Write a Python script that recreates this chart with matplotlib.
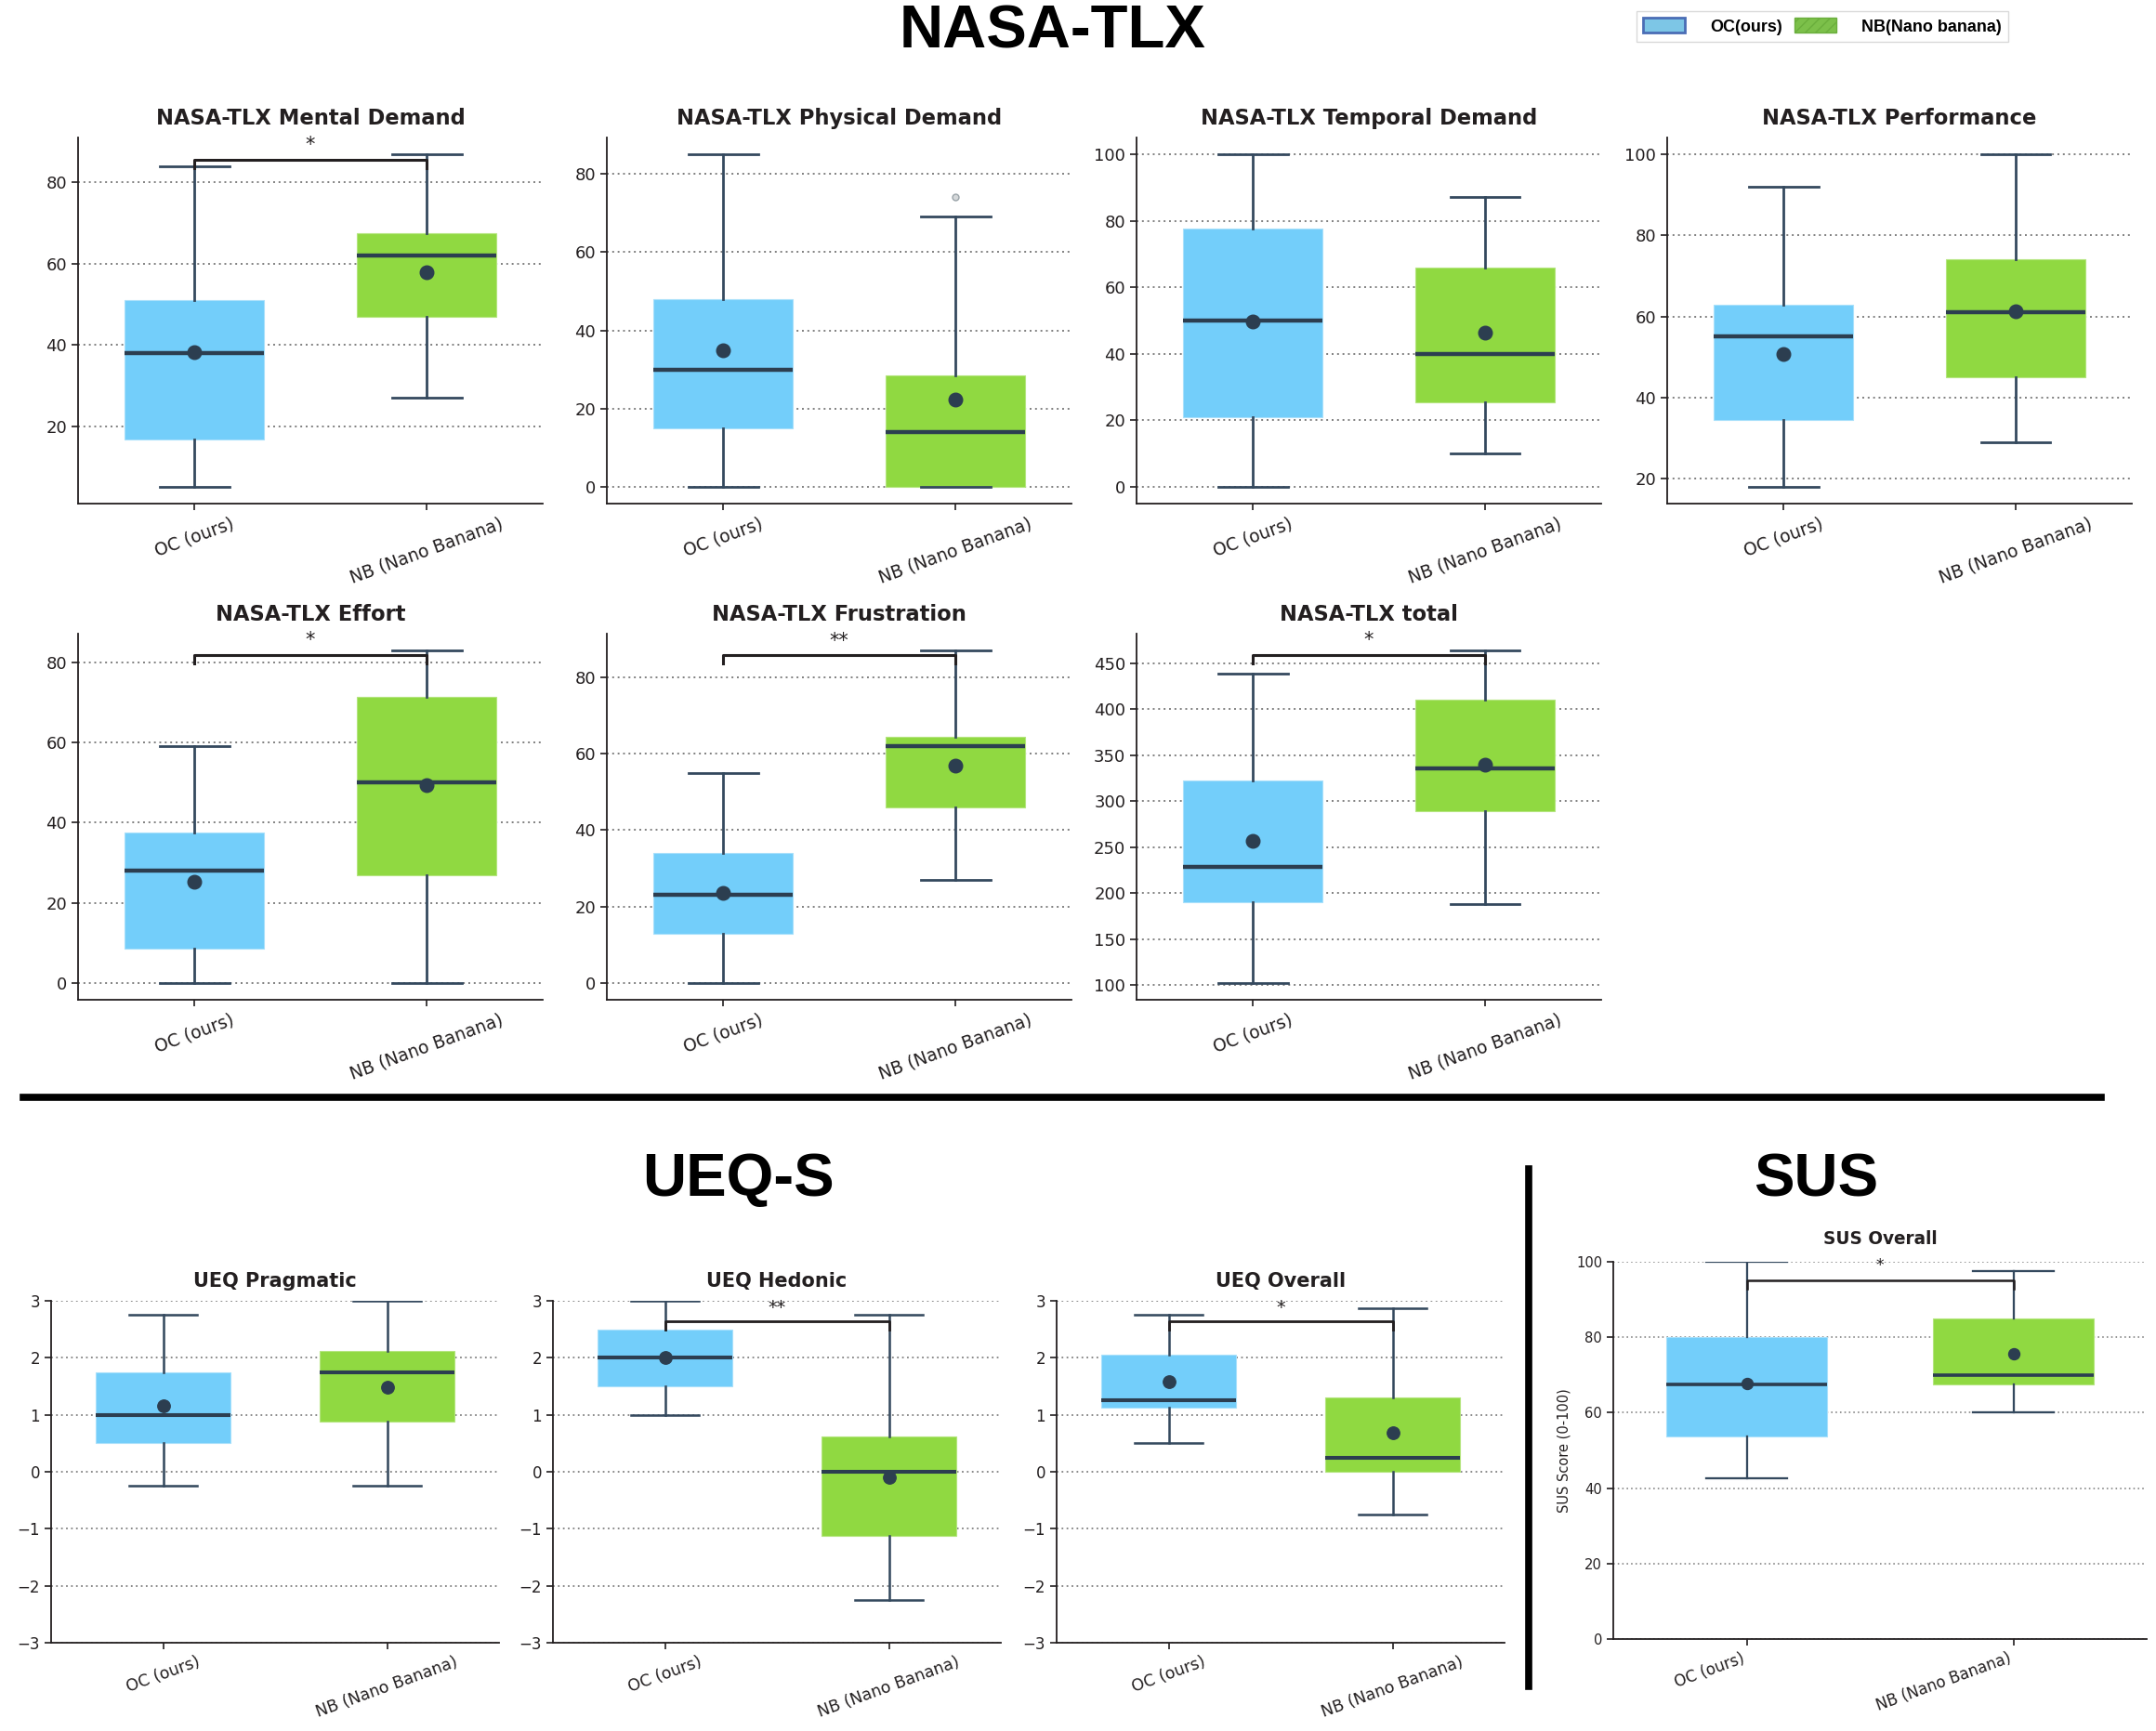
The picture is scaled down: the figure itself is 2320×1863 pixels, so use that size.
import matplotlib.pyplot as plt
from matplotlib.lines import Line2D
from matplotlib.patches import Patch
from matplotlib.ticker import MultipleLocator

groups = ['OC (ours)', 'NB (Nano Banana)']

# box summaries: [whisker low, q1, median, q3, whisker high]
mental_oc = [5, 16.6, 38, 51, 84]
mental_nb = [27, 47, 62, 67.5, 87]
mental_mean = [38.3, 57.9]

physical_oc = [0, 15, 30, 48, 85]
physical_nb = [0, 0, 14, 28.5, 69]
physical_mean = [35, 22.3]
physical_out_nb = [74]

temporal_oc = [0, 21, 50, 77.5, 100]
temporal_nb = [10, 25.5, 40, 66, 87]
temporal_mean = [49.7, 46.5]

perf_oc = [18, 34.5, 55, 63, 92]
perf_nb = [29, 45, 61, 74, 100]
perf_mean = [50.8, 61.3]

effort_oc = [0, 8.5, 28, 37.5, 59]
effort_nb = [0, 27, 50, 71.5, 83]
effort_mean = [25.2, 49.3]

frust_oc = [0, 13, 23, 34, 55]
frust_nb = [27, 46, 62, 64.5, 87]
frust_mean = [23.5, 56.8]

total_oc = [102, 190, 228, 322, 439]
total_nb = [188, 289, 336, 410, 464]
total_mean = [257, 340]

prag_oc = [-0.25, 0.5, 1.0, 1.75, 2.75]
prag_nb = [-0.25, 0.875, 1.75, 2.125, 3.0]
prag_mean = [1.16, 1.48]

hed_oc = [1.0, 1.5, 2.0, 2.5, 3.0]
hed_nb = [-2.25, -1.125, 0.0, 0.625, 2.75]
hed_mean = [2.0, -0.1]

ueq_oc = [0.5, 1.125, 1.25, 2.06, 2.75]
ueq_nb = [-0.75, 0.0, 0.25, 1.31, 2.875]
ueq_mean = [1.58, 0.69]

sus_oc = [42.5, 53.75, 67.5, 80, 100]
sus_nb = [60, 67.5, 70, 85, 97.5]
sus_mean = [67.8, 75.7]

# significance marks and bracket heights (data units)
mental_sig = ('*', 85.6)
effort_sig = ('*', 81.8)
frust_sig = ('**', 85.7)
total_sig = ('*', 458.7)
hed_sig = ('**', 2.64)
ueq_sig = ('*', 2.64)
sus_sig = ('*', 95.1)

BLUE = '#73CEFA'
GREEN = '#90D941'
DARK = '#2C3E50'
WHISK = '#34495E'

W, H = 2320, 1863
fig = plt.figure(figsize=(W / 100, H / 100), dpi=100)


def axes_px(left, top, width, height):
    return fig.add_axes([left / W, 1 - (top + height) / H, width / W, height / H])


def draw_box(ax, oc, nb, means, title, fliers=([], []), sig=None, ylim=None,
             step=20, s=1.0, ylabel=None, xfs=13.5, tpad=10, xha='center'):
    stats = []
    for vals, lab, m, fl in zip([oc, nb], groups, means, fliers):
        stats.append(dict(whislo=vals[0], q1=vals[1], med=vals[2], q3=vals[3],
                          whishi=vals[4], mean=m, fliers=fl, label=lab))
    bp = ax.bxp(stats, positions=[0, 1], widths=0.6, patch_artist=True,
                showmeans=True, showfliers=True,
                boxprops=dict(linewidth=0.8),
                whiskerprops=dict(color=WHISK, linewidth=2.0 * s),
                capprops=dict(color=WHISK, linewidth=2.0 * s),
                medianprops=dict(color=DARK, linewidth=3.2 * s),
                meanprops=dict(marker='o', markerfacecolor=DARK, markeredgecolor=DARK,
                               markersize=10.5 * s),
                flierprops=dict(marker='o', markerfacecolor='#D5D8DA',
                                markeredgecolor='#9AA3A8', markersize=5))
    for box, c, e in zip(bp['boxes'], [BLUE, GREEN], ['#A8E0FB', '#B4E57E']):
        box.set_facecolor(c)
        box.set_edgecolor(e)
    if ylim is None:
        lo = min(oc[0], nb[0], *fliers[0], *fliers[1])
        hi = max(oc[4], nb[4], *fliers[0], *fliers[1])
        pad = 0.05 * (hi - lo)
        ylim = (lo - pad, hi + pad)
    ax.set_ylim(ylim)
    ax.set_xlim(-0.5, 1.5)
    span = ylim[1] - ylim[0]
    if sig is not None:
        mark, y = sig
        ax.plot([0, 0, 1, 1], [y - 0.023 * span, y, y, y - 0.023 * span],
                color='#231F20', linewidth=2.2 * s, zorder=4)
        ax.text(0.5, y + 0.04 * span, mark, ha='center', va='center',
                fontsize=15 * s, color='#231F20')
    ax.yaxis.set_major_locator(MultipleLocator(step))
    ax.yaxis.grid(True, linestyle=(0, (1, 2)), color='#7F7F7F', linewidth=1.4 * s)
    ax.set_axisbelow(True)
    for side in ['top', 'right']:
        ax.spines[side].set_visible(False)
    for side in ['left', 'bottom']:
        ax.spines[side].set_linewidth(1.3)
        ax.spines[side].set_color('#231F20')
    ax.tick_params(axis='y', labelsize=13 * s, length=5, width=1.2, colors='#231F20')
    ax.tick_params(axis='x', labelsize=xfs, length=5, width=1.2, colors='#231F20')
    plt.setp(ax.get_xticklabels(), rotation=20, ha=xha)
    ax.set_title(title, fontsize=16.3 * s, fontweight='bold', color='#231F20', pad=tpad)
    if ylabel:
        ax.set_ylabel(ylabel, fontsize=10.5, color='#231F20')


# NASA-TLX rows
lefts = [84, 653, 1223, 1794]
ax = axes_px(lefts[0], 148, 500, 394)
draw_box(ax, mental_oc, mental_nb, mental_mean, 'NASA-TLX Mental Demand', sig=mental_sig)
ax = axes_px(lefts[1], 148, 500, 394)
draw_box(ax, physical_oc, physical_nb, physical_mean, 'NASA-TLX Physical Demand',
         fliers=([], physical_out_nb))
ax = axes_px(lefts[2], 148, 500, 394)
draw_box(ax, temporal_oc, temporal_nb, temporal_mean, 'NASA-TLX Temporal Demand')
ax = axes_px(lefts[3], 148, 500, 394)
draw_box(ax, perf_oc, perf_nb, perf_mean, 'NASA-TLX Performance')

ax = axes_px(lefts[0], 682, 500, 394)
draw_box(ax, effort_oc, effort_nb, effort_mean, 'NASA-TLX Effort', sig=effort_sig)
ax = axes_px(lefts[1], 682, 500, 394)
draw_box(ax, frust_oc, frust_nb, frust_mean, 'NASA-TLX Frustration', sig=frust_sig)
ax = axes_px(lefts[2], 682, 500, 394)
draw_box(ax, total_oc, total_nb, total_mean, 'NASA-TLX total', sig=total_sig, step=50)

# UEQ-S row
ueq_lefts = [55, 595, 1137]
ax = axes_px(ueq_lefts[0], 1400, 482, 368)
draw_box(ax, prag_oc, prag_nb, prag_mean, 'UEQ Pragmatic', ylim=(-3, 3), step=1, s=0.92,
         xfs=12.5, tpad=11)
ax = axes_px(ueq_lefts[1], 1400, 482, 368)
draw_box(ax, hed_oc, hed_nb, hed_mean, 'UEQ Hedonic', sig=hed_sig, ylim=(-3, 3), step=1,
         s=0.92, xfs=12.5, tpad=11)
ax = axes_px(ueq_lefts[2], 1400, 482, 368)
draw_box(ax, ueq_oc, ueq_nb, ueq_mean, 'UEQ Overall', sig=ueq_sig, ylim=(-3, 3), step=1,
         s=0.92, xfs=12.5, tpad=11)

# SUS
ax = axes_px(1736, 1358, 574, 406)
draw_box(ax, sus_oc, sus_nb, sus_mean, 'SUS Overall', sig=sus_sig, ylim=(0, 100),
         step=20, s=0.82, ylabel='SUS Score (0-100)', xfs=12, tpad=14, xha='right')

# section headers and dividers
big = dict(fontsize=47, fontweight='bold', family='Liberation Sans', ha='center', va='baseline')
fig.text(1133 / W, 1 - 52 / H, 'NASA-TLX', **big)
fig.text(794 / W, 1 - 1287 / H, 'UEQ-S', **big)
fig.text(1954 / W, 1 - 1287 / H, 'SUS', **big)

fig.add_artist(Line2D([25 / W, 2261 / W], [1 - 1181 / H] * 2, color='black', linewidth=5.5))
fig.add_artist(Line2D([1645 / W] * 2, [1 - 1258 / H, 1 - 1815 / H], color='black', linewidth=5.5))

handles = [Patch(facecolor='#7DC6E6', edgecolor='#4A6DB5', linewidth=2),
           Patch(facecolor='#7CC04A', edgecolor='#6AAE3C', hatch='///', linewidth=1)]
fig.legend(handles, ['OC(ours)', 'NB(Nano banana)'], loc='upper left',
           bbox_to_anchor=(1752 / W, 1 - 3 / H), ncol=2, frameon=True, fancybox=False,
           edgecolor='#D0D0D0', prop=dict(family='Liberation Sans', weight='bold', size=13),
           handlelength=2.5, handleheight=1.0, handletextpad=1.5, columnspacing=0.7,
           borderpad=0.4)

plt.savefig('out.png', dpi=100)
